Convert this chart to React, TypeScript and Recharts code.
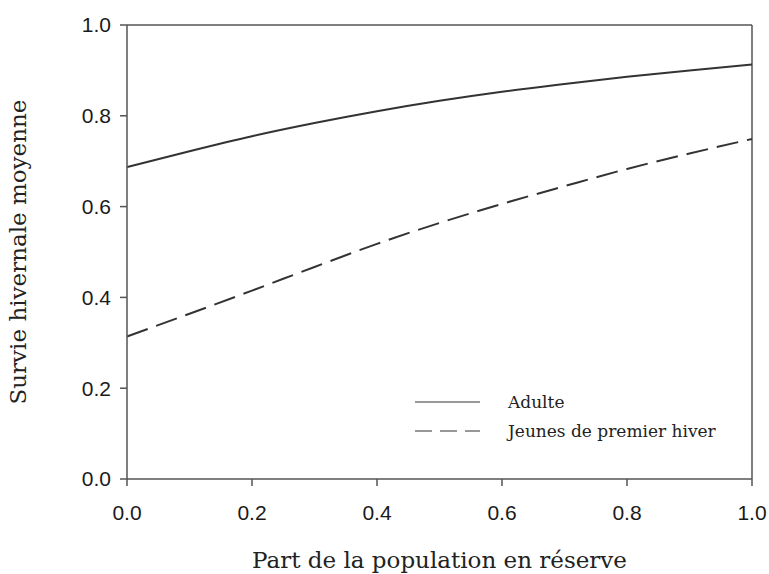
import { LineChart, Line, XAxis, YAxis, ReferenceLine, Label } from "recharts"

const parts = [0, 0.1, 0.2, 0.3, 0.4, 0.5, 0.6, 0.7, 0.8, 0.9, 1.0]
const adulte = [0.687, 0.722, 0.755, 0.784, 0.81, 0.833, 0.853, 0.87, 0.886, 0.9, 0.913]
const jeunes = [0.314, 0.364, 0.415, 0.467, 0.518, 0.564, 0.606, 0.645, 0.683, 0.717, 0.749]
const ticks = [0, 0.2, 0.4, 0.6, 0.8, 1.0]
const legendRows = [
  { label: "Adulte", dash: undefined },
  { label: "Jeunes de premier hiver", dash: "17 8" },
]

const data = parts.map((p, i) => ({ p, adulte: adulte[i], jeunes: jeunes[i] }))

const axisColor = "#555"
const lineColor = "#333"
const serif = "'DejaVu Serif', 'Liberation Serif', serif"
const tickStyle = { fontSize: 21, fill: "#1a1a1a", fontFamily: "'Liberation Sans', Arial, sans-serif" }

function LegendBox() {
  return (
    <svg width={340} height={60} style={{ position: "absolute", left: 413, top: 392 }}>
      {legendRows.map((r, i) => (
        <g key={r.label}>
          <line x1={2} x2={67} y1={10 + i * 29} y2={10 + i * 29} stroke="#777" strokeWidth={1.5} strokeDasharray={r.dash} />
          <text x={95} y={16 + i * 29} fontFamily={serif} fontSize={17} fill="#222">{r.label}</text>
        </g>
      ))}
    </svg>
  )
}

export default function App() {
  return (
    <div style={{ position: "absolute", left: 0, top: 0, width: 769, height: 574, background: "#fff" }}>
      <LineChart width={769} height={574} data={data} margin={{ top: 25, right: 17, bottom: 0, left: 0 }}>
        <XAxis
          dataKey="p"
          type="number"
          domain={[0, 1]}
          ticks={ticks}
          tickFormatter={(v: number) => v.toFixed(1)}
          tick={tickStyle}
          tickSize={7}
          tickMargin={19}
          stroke={axisColor}
          strokeWidth={1.5}
          height={95}
        >
          <Label value="Part de la population en réserve" position="insideBottom" offset={6} style={{ fontSize: 23, fontFamily: serif, fill: "#222" }} />
        </XAxis>
        <YAxis
          type="number"
          domain={[0, 1]}
          ticks={ticks}
          tickFormatter={(v: number) => v.toFixed(1)}
          tick={tickStyle}
          tickSize={7}
          tickMargin={9}
          stroke={axisColor}
          strokeWidth={1.5}
          width={127}
        >
          <Label value="Survie hivernale moyenne" angle={-90} position="insideLeft" offset={18} style={{ textAnchor: "middle", fontSize: 23, fontFamily: serif, fill: "#222" }} />
        </YAxis>
        <ReferenceLine y={1} stroke={axisColor} strokeWidth={1.5} />
        <ReferenceLine x={1} stroke={axisColor} strokeWidth={1.5} />
        <Line type="monotone" dataKey="adulte" stroke={lineColor} strokeWidth={2} dot={false} isAnimationActive={false} />
        <Line type="monotone" dataKey="jeunes" stroke={lineColor} strokeWidth={2} strokeDasharray="22 9" dot={false} isAnimationActive={false} />
      </LineChart>
      <LegendBox />
    </div>
  )
}
